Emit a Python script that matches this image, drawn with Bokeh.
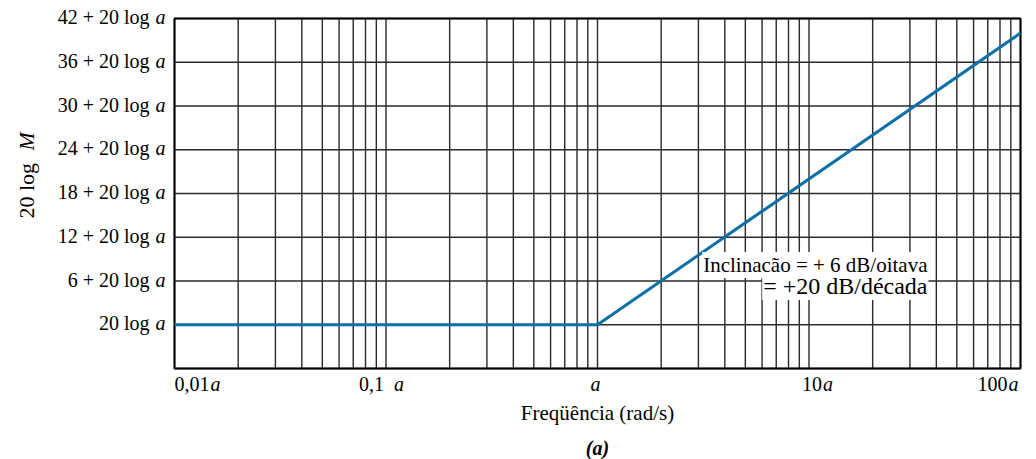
import math
from bokeh.plotting import figure
from bokeh.models import Label, Range1d
from bokeh.embed import file_html
from bokeh.resources import INLINE

# ---- data (magnitude relative to 20 log a) ----
freq = [0.01, 1.0, 100.0]          # in units of a
mag_db = [0.0, 0.0, 40.0]           # dB above 20 log a

y_tick_values = [0, 6, 12, 18, 24, 30, 36, 42]
y_tick_prefix = ["20 log", "6 + 20 log", "12 + 20 log", "18 + 20 log",
                 "24 + 20 log", "30 + 20 log", "36 + 20 log", "42 + 20 log"]

x_tick_values = [0.01, 0.1, 1.0, 10.0, 100.0]
x_tick_numbers = ["0,01", "0,1", "", "10", "100"]

x_min, x_max = 0.01, 100.0
y_min, y_max = -6, 42
x_grid_values = [m * d for d in [0.01, 0.1, 1.0, 10.0] for m in range(1, 10)] + [100.0]
y_grid_values = [-6, 0, 6, 12, 18, 24, 30, 36, 42]

FONT = "Liberation Serif"
BLUE = "#0b70a8"
GRID = "#2a2a2a"
LIFT = 8  # baseline correction in px

# ---- layout: the plotting box occupies pixels 174..1020 x 18..368 ----
W, H = 1036, 459
box_l, box_r, box_t, box_b = 174, 1020, 18, 368
dec_px = (box_r - box_l) / (math.log10(x_max) - math.log10(x_min))
db_px = (box_b - box_t) / (y_max - y_min)
xr = Range1d(10 ** (math.log10(x_min) - box_l / dec_px),
             10 ** (math.log10(x_max) + (W - box_r) / dec_px))
yr = Range1d(y_min - (H - box_b) / db_px, y_max + box_t / db_px)

p = figure(width=W, height=H, x_axis_type="log", x_range=xr, y_range=yr,
           output_backend="svg", toolbar_location=None,
           min_border=0, min_border_left=0, min_border_right=0,
           min_border_top=0, min_border_bottom=0)
p.axis.visible = False
p.grid.visible = False
p.outline_line_color = None
p.background_fill_color = "white"
p.border_fill_color = "white"

# grid
p.segment(x0=x_grid_values, y0=[y_min] * len(x_grid_values),
          x1=x_grid_values, y1=[y_max] * len(x_grid_values),
          line_color=GRID, line_width=1.4)
p.segment(x0=[x_min] * len(y_grid_values), y0=y_grid_values,
          x1=[x_max] * len(y_grid_values), y1=y_grid_values,
          line_color=GRID, line_width=1.4)
# frame
p.quad(left=[x_min], right=[x_max], bottom=[y_min], top=[y_max],
       fill_color=None, line_color="black", line_width=2)

p.line(freq, mag_db, line_color=BLUE, line_width=3)

# ---- y tick labels ----
for v, pre in zip(y_tick_values, y_tick_prefix):
    p.add_layout(Label(x=x_min, y=v, x_offset=-25, y_offset=-6.5 + LIFT, text=pre,
                       text_align="right", text_baseline="alphabetic",
                       text_font=FONT, text_font_size="20px", text_color="black"))
    p.add_layout(Label(x=x_min, y=v, x_offset=-19, y_offset=-6.5 + LIFT, text="a",
                       text_align="left", text_baseline="alphabetic",
                       text_font=FONT, text_font_style="italic",
                       text_font_size="20px", text_color="black"))

# ---- x tick labels ----
num_dx = [35, -2, -7, 13, -13]
a_gap = [1, 10, 0, 1, 1]
for v, num, dx, gap in zip(x_tick_values, x_tick_numbers, num_dx, a_gap):
    if num:
        p.add_layout(Label(x=v, y=y_min, x_offset=dx, y_offset=-23 + LIFT, text=num,
                           text_align="right", text_baseline="alphabetic",
                           text_font=FONT, text_font_size="20px", text_color="black"))
    p.add_layout(Label(x=v, y=y_min, x_offset=dx + gap, y_offset=-23 + LIFT, text="a",
                       text_align="left", text_baseline="alphabetic",
                       text_font=FONT, text_font_style="italic",
                       text_font_size="20px", text_color="black"))

# ---- axis titles ----
p.add_layout(Label(x=1.0, y=y_min, y_offset=-52 + LIFT, text="Freqüência (rad/s)",
                   text_align="center", text_baseline="alphabetic",
                   text_font=FONT, text_font_size="21px", text_color="black"))
p.add_layout(Label(x=1.0, y=y_min, y_offset=-87 + LIFT, text="(a)",
                   text_align="center", text_baseline="alphabetic",
                   text_font=FONT, text_font_style="bold italic",
                   text_font_size="20px", text_color="black"))
p.add_layout(Label(x=x_min, y=y_min, x_offset=-148, y_offset=150, text="20 log",
                   angle=math.pi / 2, text_align="left", text_baseline="middle",
                   text_font=FONT, text_font_size="22px", text_color="black"))
p.add_layout(Label(x=x_min, y=y_min, x_offset=-148, y_offset=218, text="M",
                   angle=math.pi / 2, text_align="left", text_baseline="middle",
                   text_font=FONT, text_font_style="italic",
                   text_font_size="22px", text_color="black"))

# ---- slope annotation ----
p.add_layout(Label(x=x_max, y=6, x_offset=-92, y_offset=8 + LIFT,
                   text="Inclinação = + 6 dB/oitava",
                   text_align="right", text_baseline="alphabetic",
                   text_font=FONT, text_font_size="21px", text_color="black",
                   background_fill_color="white", padding=1))
p.add_layout(Label(x=x_max, y=6, x_offset=-92, y_offset=-13 + LIFT,
                   text="= +20 dB/década",
                   text_align="right", text_baseline="alphabetic",
                   text_font=FONT, text_font_size="24px", text_color="black",
                   background_fill_color="white", padding=1))

open("out.html", "w").write(file_html(p, INLINE))
